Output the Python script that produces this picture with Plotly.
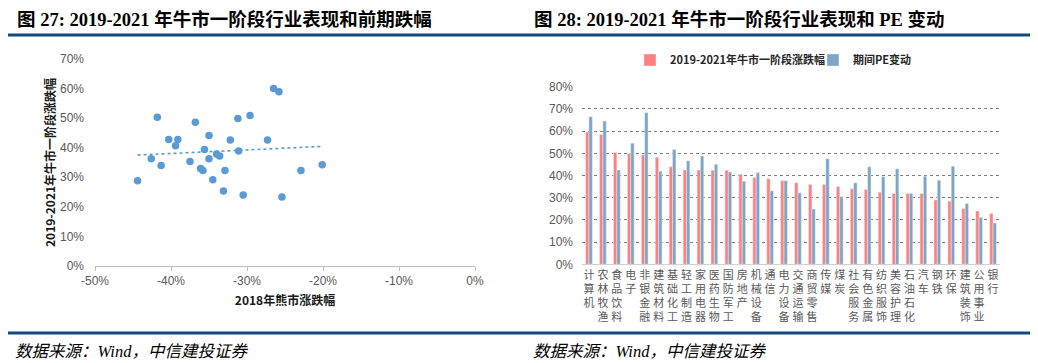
import numpy as np
import plotly.graph_objects as go

# page body has an 8px default margin, so the figure is drawn 8px in from the corner
OFF = 8
W, H = 1038 - OFF, 363 - OFF

# ---------------- data ----------------
# Fig 27: scatter (x: 2018 bear market change, y: 2019-2021 bull stage change), in %
bear_2018 = [-44.4, -42.6, -41.8, -41.3, -40.3, -39.4, -39.1, -37.5, -36.8, -36.1,
             -35.8, -35.6, -35.0, -35.0, -34.5, -34.0, -33.6, -33.1, -32.9, -32.2,
             -31.2, -31.1, -30.5, -29.6, -27.3, -26.5, -25.8, -25.4, -22.9, -20.1]
bull_stage = [28.8, 36.3, 50.3, 34.0, 42.8, 40.7, 42.8, 35.3, 48.6, 33.0,
              32.3, 39.4, 44.1, 36.3, 29.2, 37.9, 37.2, 25.4, 32.3, 42.6,
              49.9, 38.9, 24.0, 50.9, 42.6, 60.0, 58.9, 23.3, 32.3, 34.2]
scatter_xticks = [-50, -40, -30, -20, -10, 0]
scatter_xticklabels = ["-50%", "-40%", "-30%", "-20%", "-10%", "0%"]

# Fig 28: grouped bars
industries = ["计算机", "农林牧渔", "食品饮料", "电子", "非银金融", "建筑材料", "基础化工",
              "轻工制造", "家用电器", "医药生物", "国防军工", "房地产", "机械设备", "通信",
              "电力设备", "交通运输", "商贸零售", "传媒", "煤炭", "社会服务", "有色金属",
              "纺织服饰", "美容护理", "石油石化", "汽车", "钢铁", "环保", "建筑装饰",
              "公用事业", "银行"]
bull_change = [59.6, 58.5, 50.4, 49.9, 49.3, 48.2, 43.9, 42.5, 42.5, 42.4,
               42.4, 40.6, 39.1, 38.5, 37.6, 36.7, 35.9, 35.9, 35.0, 34.0,
               33.7, 32.5, 31.9, 31.9, 31.9, 29.0, 28.4, 25.1, 24.0, 22.9]
pe_change = [66.5, 64.5, 42.5, 54.5, 68.3, 41.9, 51.7, 46.6, 48.8, 45.1,
             41.6, 37.4, 41.3, 33.1, 37.6, 32.2, 24.9, 47.6, 30.5, 36.7,
             43.9, 39.4, 43.0, 31.9, 39.7, 37.9, 44.2, 27.4, 21.1, 18.6]
series_names = ["2019-2021年牛市一阶段涨跌幅", "期间PE变动"]

title_left = "图 27: 2019-2021 年牛市一阶段行业表现和前期跌幅"
title_right = "图 28: 2019-2021 年牛市一阶段行业表现和 PE 变动"
source_text = "数据来源：Wind，中信建投证券"


def px_x(p):
    return (p - OFF) / W


def px_y(p):
    return 1 - (p - OFF) / H


SANS = "Liberation Sans, Noto Sans CJK SC, sans-serif"
CJK = "Noto Sans CJK SC, sans-serif"
SERIF = "Liberation Serif, Noto Sans CJK SC, serif"
GRAY = "#595959"

fig = go.Figure()

# scatter
fig.add_trace(go.Scatter(
    x=bear_2018, y=bull_stage, mode="markers",
    marker=dict(size=7.5, color="#5B9BD5"),
    xaxis="x", yaxis="y", showlegend=False))

# linear trendline fitted from the data
k, b = np.polyfit(bear_2018, bull_stage, 1)
tx = np.array([min(bear_2018), max(bear_2018)])
fig.add_trace(go.Scatter(
    x=tx, y=k * tx + b, mode="lines",
    line=dict(color="#5B9BD5", width=1.6, dash="dot"),
    xaxis="x", yaxis="y", showlegend=False))

# bars
fig.add_trace(go.Bar(x=industries, y=bull_change, name=series_names[0],
                     marker=dict(color="#FF8080"), xaxis="x3", yaxis="y3"))
fig.add_trace(go.Bar(x=industries, y=pe_change, name=series_names[1],
                     marker=dict(color="#7FA5C4"), xaxis="x3", yaxis="y3"))

vertical_labels = ["<br>".join(list(c)) for c in industries]

fig.update_layout(
    width=W, height=H, autosize=False,
    margin=dict(l=0, r=0, t=0, b=0, autoexpand=False),
    paper_bgcolor="white", plot_bgcolor="white",
    barmode="group", bargap=0.52, bargroupgap=0,
    font=dict(family=SANS, color=GRAY, size=12),
    xaxis=dict(domain=[px_x(95), px_x(475)], range=[-50, 0], automargin=False,
               tickvals=scatter_xticks, ticktext=scatter_xticklabels,
               showgrid=False, zeroline=False, showline=True, linecolor="#BFBFBF",
               ticks="outside", ticklen=4, tickcolor="#BFBFBF",
               tickfont=dict(size=12, color=GRAY, family=SANS),
               title=dict(text="2018年熊市涨跌幅", standoff=9,
                          font=dict(size=12, color="#1a1a1a", family=CJK, weight="bold")),
               anchor="y"),
    yaxis=dict(domain=[px_y(266), px_y(59)], range=[0, 70], dtick=10, ticksuffix="%",
               automargin=False,
               showgrid=False, zeroline=False, showline=False, ticks="",
               ticklabelstandoff=10,
               tickfont=dict(size=12, color=GRAY, family=SANS),
               title=dict(text="2019-2021年牛市一阶段涨跌幅", standoff=1,
                          font=dict(size=12, color="#1a1a1a", family=CJK, weight="bold")),
               anchor="x"),
    yaxis2=dict(overlaying="y", side="right", anchor="x", range=[0, 70], dtick=10,
                automargin=False,
                showgrid=False, zeroline=False, showline=True, linecolor="#BFBFBF",
                ticks="inside", ticklen=3, tickcolor="#BFBFBF", showticklabels=False),
    xaxis3=dict(domain=[px_x(582), px_x(1000)], anchor="y3", automargin=False,
                tickvals=industries, ticktext=vertical_labels,
                showgrid=False, zeroline=False, showline=True, linecolor="#D0D0D0",
                ticks="", tickangle=0,
                tickfont=dict(size=11, color=GRAY, family=CJK)),
    yaxis3=dict(domain=[px_y(264.3), px_y(86.7)], anchor="x3", range=[0, 80], dtick=10,
                automargin=False,
                ticksuffix="%", showgrid=True, gridcolor="#7F7F7F", griddash="dot",
                gridwidth=1, zeroline=False, showline=False, ticks="",
                ticklabelstandoff=8,
                tickfont=dict(size=12, color=GRAY, family=SANS)),
    legend=dict(orientation="h", x=px_x(630), xanchor="left", y=px_y(60), yanchor="middle",
                font=dict(size=11, color="#262626", family=CJK, weight="bold"),
                bgcolor="rgba(0,0,0,0)", itemwidth=30, entrywidth=138,
                entrywidthmode="pixels"),
)

line_color = "#0F4C7D"
fig.add_shape(type="line", xref="paper", yref="paper", x0=px_x(8), x1=px_x(1036),
              y0=px_y(35), y1=px_y(35), line=dict(color=line_color, width=3))
fig.add_shape(type="line", xref="paper", yref="paper", x0=px_x(8), x1=px_x(1036),
              y0=px_y(333), y1=px_y(333), line=dict(color=line_color, width=3))

for xpx, txt in [(15, title_left), (532, title_right)]:
    fig.add_annotation(xref="paper", yref="paper", x=px_x(xpx), y=px_y(20),
                       xanchor="left", yanchor="middle", showarrow=False, text=txt,
                       font=dict(size=18.5, color="black", family=SERIF, weight="bold"))
for xpx in [13, 531]:
    fig.add_annotation(xref="paper", yref="paper", x=px_x(xpx), y=px_y(351),
                       xanchor="left", yanchor="middle", showarrow=False, text=source_text,
                       font=dict(size=16.5, color="black", family=SERIF, style="italic"))

fig.write_html("out.html")
